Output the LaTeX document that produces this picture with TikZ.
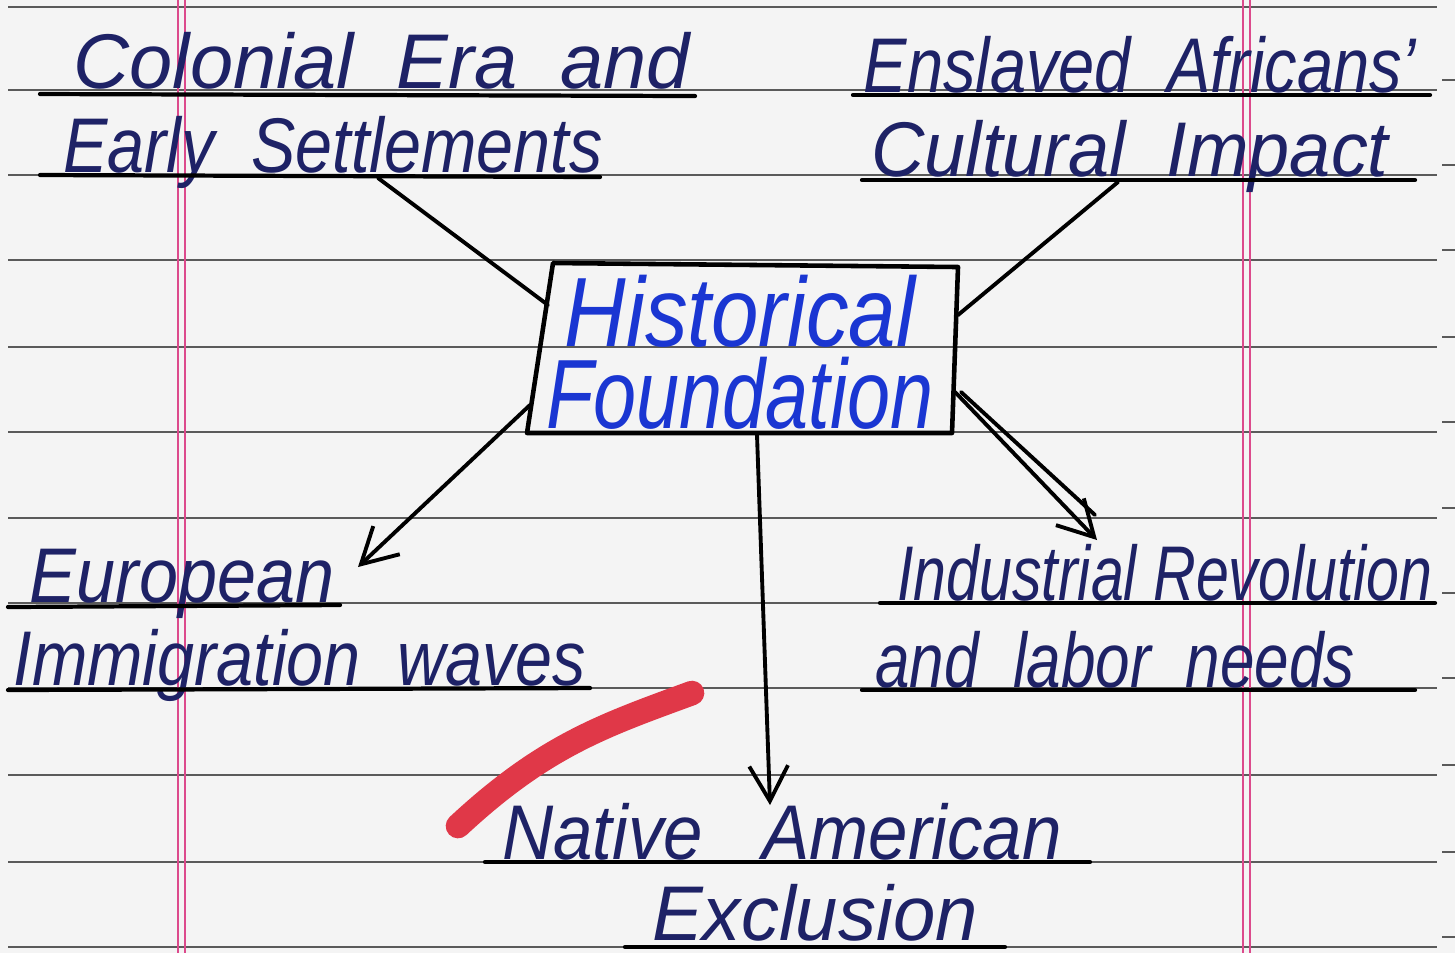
\documentclass[tikz,border=0pt]{standalone}
\usepackage{fontspec}
\setmainfont{Liberation Sans}
\usetikzlibrary{arrows.meta}
\definecolor{paper}{HTML}{F4F4F4}
\definecolor{ruleline}{HTML}{5A5A5A}
\definecolor{margin}{HTML}{DC4A8C}
\definecolor{ink}{HTML}{1E2266}
\definecolor{bink}{HTML}{1A36D2}
\definecolor{marker}{HTML}{E03848}
\tikzset{
  rule/.style={ruleline, line width=0.75pt},
  pinkline/.style={margin, line width=0.5pt},
  uline/.style={black, line width=1.2pt, line cap=round},
  lab/.style={ink, anchor=base, inner sep=0pt, font=\fontsize{21}{24}\selectfont\itshape},
  hist/.style={bink, inner sep=0pt, align=center, font=\fontsize{25}{23.3}\selectfont\itshape},
  conn/.style={black, line width=1.1pt, line cap=round, line join=round},
  arr/.style={conn, -{Straight Barb[length=10pt,width=11pt,line width=1.1pt]}},
  boxline/.style={black, line width=1.3pt, line join=round}
}
\begin{document}
\begin{tikzpicture}[x=0.01cm,y=-0.01cm]
\useasboundingbox (0,0) rectangle (1455,953);
\fill[paper] (0,0) rectangle (1455,953);
% ruled lines
\foreach \y in {7,90,175,260,347,432,518,603,688,775,862,947}
  \draw[rule] (8,\y) -- (1437,\y);
\foreach \y in {80,165,250,337,422,508,593,678,765,852,937}
  \draw[rule] (1442,\y) -- (1455,\y);
% margins
\draw[pinkline] (178,0) -- (178,953);
\draw[pinkline] (185,0) -- (185,953);
\draw[pinkline] (1243,0) -- (1243,953);
\draw[pinkline] (1250,0) -- (1250,953);
% labels
\node[lab] (colA) at (382,88) {\scalebox{1.05}[1.05]{Colonial\ \ Era\ \ and}};
\node[lab] (colB) at (333,172) {\scalebox{0.9}[1.05]{Early\ \ Settlements}};
\node[lab] (ensA) at (1140,92) {\scalebox{0.88}[1.05]{Enslaved\ \ Africans'}};
\node[lab] (ensB) at (1130,176) {\scalebox{1}[1.05]{Cultural\ \ Impact}};
\node[lab] (eurA) at (182,602) {\scalebox{0.95}[1.05]{European}};
\node[lab] (eurB) at (300,685) {\scalebox{0.9}[1.05]{Immigration\ \ waves}};
\node[lab] (indA) at (1165,600) {\scalebox{0.8}[1.05]{Industrial Revolution}};
\node[lab] (indB) at (1115,687) {\scalebox{0.84}[1.05]{and\ \ labor\ \ needs}};
\node[lab] (natA) at (782,859) {\scalebox{0.96}[1.05]{Native\ \ \ American}};
\node[lab] (natB) at (815,940) {\scalebox{1.03}[1.05]{Exclusion}};
% underlines
\draw[uline] (40,94) -- (695,96);
\draw[uline] (40,175) -- (600,177);
\draw[uline] (853,95) -- (1430,95);
\draw[uline] (862,180) -- (1415,180);
\draw[uline] (8,607) -- (340,605);
\draw[uline] (8,690) -- (590,688);
\draw[uline] (880,603) -- (1435,603);
\draw[uline] (862,690) -- (1415,690);
\draw[uline] (485,862) -- (1090,862);
\draw[uline] (625,947) -- (1005,947);
% central box
\coordinate (btl) at (553,263);
\coordinate (btr) at (958,267);
\coordinate (bbr) at (952,433);
\coordinate (bbl) at (527,433);
\draw[boxline] (btl) -- (btr) -- (bbr) -- (bbl) -- cycle;
\node[hist, anchor=north] (hf) at (740,274) {\scalebox{0.97}[1.12]{Historical}\\\scalebox{0.88}[1.12]{Foundation}};
% connector endpoints
\coordinate (cS) at (378,178);
\coordinate (bL1) at (548,305);
\coordinate (cE) at (1118,182);
\coordinate (bR1) at (958,315);
\coordinate (bL2) at (530,405);
\coordinate (tEur) at (358,567);
\coordinate (bR2) at (955,392);
\coordinate (tInd) at (1097,540);
\coordinate (bB) at (757,435);
\coordinate (tNat) at (770,805);
\draw[conn] (cS) -- (bL1);
\draw[conn] (cE) -- (bR1);
\draw[arr] (bL2) -- (tEur);
\draw[arr] (bR2) -- (tInd);
\draw[conn] ([xshift=0.06cm]bR2) -- ([xshift=-0.02cm,yshift=0.25cm]tInd);
\draw[arr] (bB) -- (tNat);
% red marker stroke
\draw[marker, line width=7pt, line cap=round] (458,826) .. controls (545,745) and (605,725) .. (692,693);
\end{tikzpicture}
\end{document}
